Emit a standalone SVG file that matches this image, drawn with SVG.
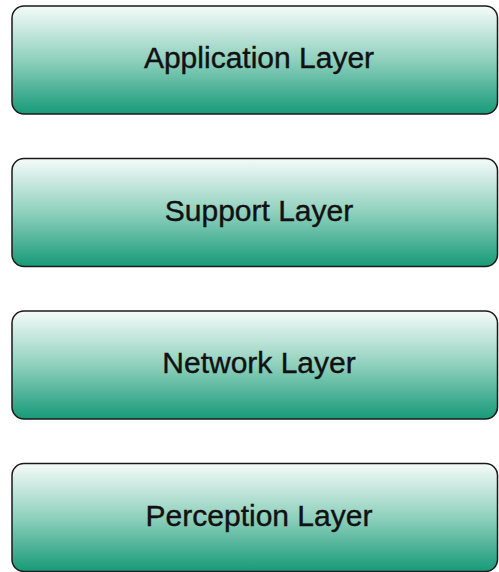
<svg xmlns="http://www.w3.org/2000/svg" width="499" height="572" viewBox="0 0 499 572">
<defs>
<linearGradient id="g" x1="0" y1="0" x2="0" y2="1">
<stop offset="0" stop-color="#f5fbf9"/>
<stop offset="0.5" stop-color="#8fd0bd"/>
<stop offset="1" stop-color="#179a78"/>
</linearGradient>
</defs>
<style>
.box{fill:url(#g);stroke:#1a1a1a;stroke-width:1.5}
.lbl{font-family:"Liberation Sans",Arial,sans-serif;font-size:30px;fill:#111;stroke:#111;stroke-width:0.4;text-anchor:middle}
</style>
<rect width="499" height="572" fill="#fff"/>
<g id="application">
<rect class="box" x="12" y="6" width="485.5" height="108" rx="12"/>
<text class="lbl" x="259" y="68">Application Layer</text>
</g>
<g id="support">
<rect class="box" x="12" y="158.5" width="485.5" height="108" rx="12"/>
<text class="lbl" x="259" y="220.5">Support Layer</text>
</g>
<g id="network">
<rect class="box" x="12" y="311" width="485.5" height="108" rx="12"/>
<text class="lbl" x="259" y="373">Network Layer</text>
</g>
<g id="perception">
<rect class="box" x="12" y="463.5" width="485.5" height="108" rx="12"/>
<text class="lbl" x="259" y="525.5">Perception Layer</text>
</g>
<g id="connectors"/>
</svg>
